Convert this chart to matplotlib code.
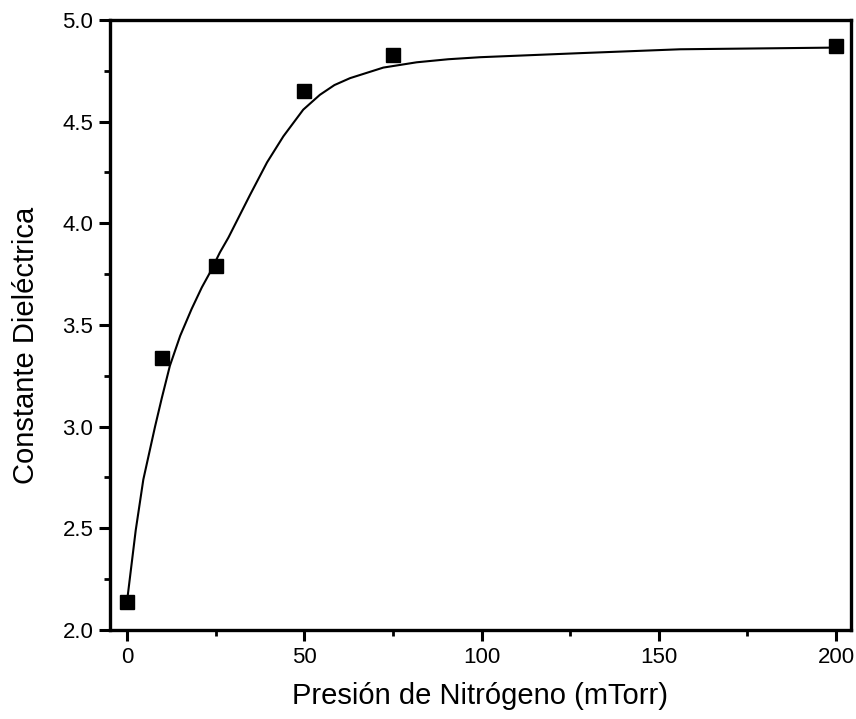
import matplotlib
matplotlib.use("Agg")
import matplotlib.pyplot as plt
from matplotlib.ticker import MultipleLocator

plt.rcParams['font.family'] = ['Liberation Sans', 'DejaVu Sans']

# Measured data points
pressure = [0, 10, 25, 50, 75, 200]
dielectric = [2.14, 3.34, 3.79, 4.65, 4.83, 4.87]

# Fitted curve
curve_x = [0, 2.45, 4.6, 7.9, 9.8, 12.1, 15.0, 18.2, 21.1, 23.4, 26.2, 28.6,
           34.7, 39.5, 44.1, 49.7, 54.4, 58.5, 62.9, 72.3, 81.7, 90.6, 99.6,
           127.8, 156, 198.3, 200]
curve_y = [2.14, 2.49, 2.74, 3.0, 3.14, 3.30, 3.447, 3.578, 3.685, 3.758,
           3.857, 3.93, 4.14, 4.30, 4.428, 4.559, 4.632, 4.68, 4.714, 4.766,
           4.792, 4.807, 4.817, 4.837, 4.856, 4.864, 4.87]

x_ticks = [0, 50, 100, 150, 200]
y_ticks = [2.0, 2.5, 3.0, 3.5, 4.0, 4.5, 5.0]

fig = plt.figure(figsize=(8.56, 7.19), dpi=100)
ax = fig.add_axes([110/856, 1-630/719, 741/856, 610/719])

ax.plot(curve_x, curve_y, color='black', lw=1.5, zorder=2,
        solid_joinstyle='round')
ax.plot(pressure, dielectric, linestyle='none', marker='s', color='black',
        markersize=10.5, zorder=3)

ax.set_xlim(-4.8, 204.2)
ax.set_ylim(2.0, 5.0)
ax.set_xticks(x_ticks)
ax.set_yticks(y_ticks)
ax.set_yticklabels([f"{v:.1f}" for v in y_ticks])
ax.xaxis.set_minor_locator(MultipleLocator(25))
ax.yaxis.set_minor_locator(MultipleLocator(0.25))

for s in ax.spines.values():
    s.set_linewidth(2.4)

ax.tick_params(which='major', direction='out', length=8, width=2.2,
               labelsize=16, pad=4, top=False, right=False)
ax.tick_params(which='minor', direction='out', length=4.5, width=2.0,
               top=False, right=False)

ax.set_xlabel('Presión de Nitrógeno (mTorr)', fontsize=21, labelpad=10)
ax.set_ylabel('Constante Dieléctrica', fontsize=21)
ax.yaxis.set_label_coords(-0.094, 0.466)

fig.savefig('out.png', dpi=100)
